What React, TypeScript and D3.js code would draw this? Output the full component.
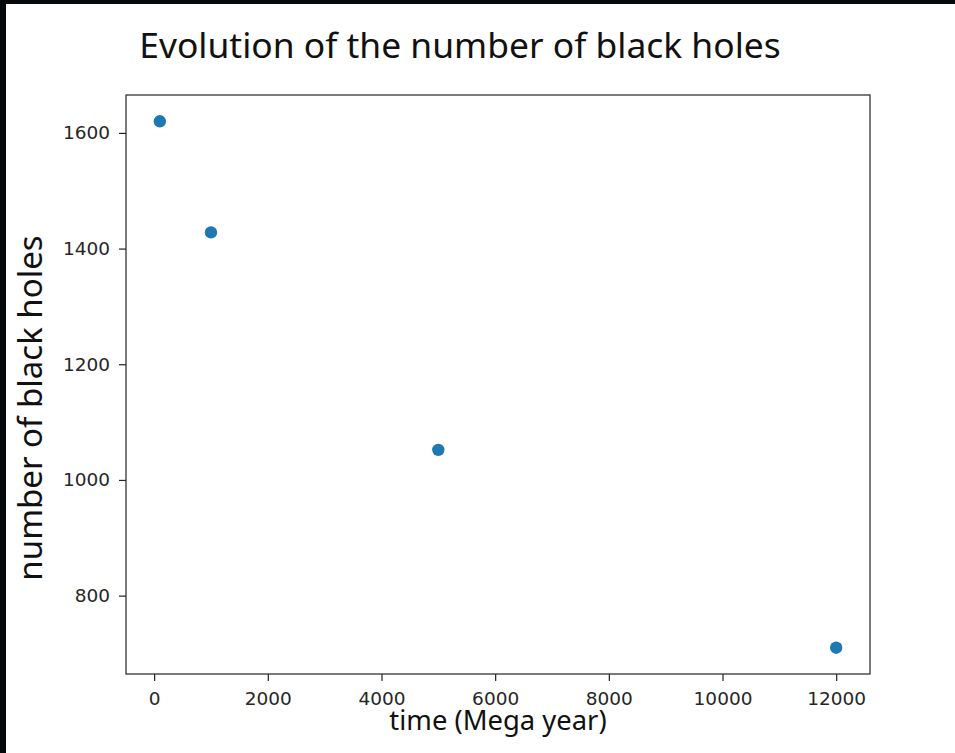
import React, { useRef, useEffect } from "react";
import * as d3 from "d3";

// values
const times = [100, 1000, 5000, 12000];
const blackHoles = [1620, 1428, 1052, 710];
const xTicks = [0, 2000, 4000, 6000, 8000, 10000, 12000];
const yTicks = [800, 1000, 1200, 1400, 1600];

const W = 955;
const H = 753;

const App = () => {
  const svgRef = useRef<SVGSVGElement>(null);

  useEffect(() => {
    const svg = d3.select(svgRef.current);
    svg.selectAll("*").remove();

    // frame around the screenshot
    svg.append("rect").attr("width", W).attr("height", H).attr("fill", "#ffffff");
    svg.append("rect").attr("x", 0).attr("y", 0).attr("width", 6).attr("height", H).attr("fill", "#05090c");
    svg.append("rect").attr("x", 0).attr("y", 0).attr("width", W).attr("height", 4).attr("fill", "#05090c");

    const left = 126, right = 870, top = 95, bottom = 674;

    // matplotlib style 5% margins
    const xMin = d3.min(times), xMax = d3.max(times);
    const xPad = (xMax - xMin) * 0.05;
    const yMin = d3.min(blackHoles), yMax = d3.max(blackHoles);
    const yPad = (yMax - yMin) * 0.05;

    const x = d3.scaleLinear().domain([xMin - xPad, xMax + xPad]).range([left, right]);
    const y = d3.scaleLinear().domain([yMin - yPad, yMax + yPad]).range([bottom, top]);

    const xAxis = d3.axisBottom(x).tickValues(xTicks).tickSize(7).tickPadding(11).tickFormat(d3.format("d"));
    const yAxis = d3.axisLeft(y).tickValues(yTicks).tickSize(7).tickPadding(9).tickFormat(d3.format("d"));

    const gx = svg.append("g").attr("transform", "translate(0," + bottom + ")").call(xAxis);
    const gy = svg.append("g").attr("transform", "translate(" + left + ",0)").call(yAxis);
    [gx, gy].forEach(g => {
      g.attr("font-size", null).attr("font-family", null);
      g.select(".domain").remove();
      g.selectAll("line").attr("stroke", "#222").attr("stroke-width", 1.2);
      g.selectAll("text")
        .attr("fill", "#262626")
        .style("font-family", "DejaVu Sans")
        .style("font-size", "18.5px");
    });

    svg.append("rect")
      .attr("x", left).attr("y", top)
      .attr("width", right - left).attr("height", bottom - top)
      .attr("fill", "none").attr("stroke", "#222").attr("stroke-width", 1.2);

    svg.append("g").selectAll("circle")
      .data(times)
      .enter()
      .append("circle")
      .attr("cx", d => x(d))
      .attr("cy", (d, i) => y(blackHoles[i]))
      .attr("r", 6.2)
      .attr("fill", "#1f77b4");

    svg.append("text")
      .attr("x", 460).attr("y", 58)
      .attr("text-anchor", "middle")
      .style("font-family", "Noto Sans")
      .style("font-size", "35.4px")
      .attr("fill", "#111")
      .text("Evolution of the number of black holes");

    svg.append("text")
      .attr("transform", "translate(42,408) rotate(-90)")
      .attr("text-anchor", "middle")
      .style("font-family", "Noto Sans")
      .style("font-size", "33px")
      .attr("fill", "#111")
      .text("number of black holes");

    svg.append("text")
      .attr("x", 498).attr("y", 730)
      .attr("text-anchor", "middle")
      .style("font-family", "Noto Sans")
      .style("font-size", "27.4px")
      .attr("fill", "#111")
      .text("time (Mega year)");
  }, []);

  return (
    <svg ref={svgRef} width={W} height={H} style={{ position: "absolute", left: 0, top: 0 }}></svg>
  );
};

export default App;
